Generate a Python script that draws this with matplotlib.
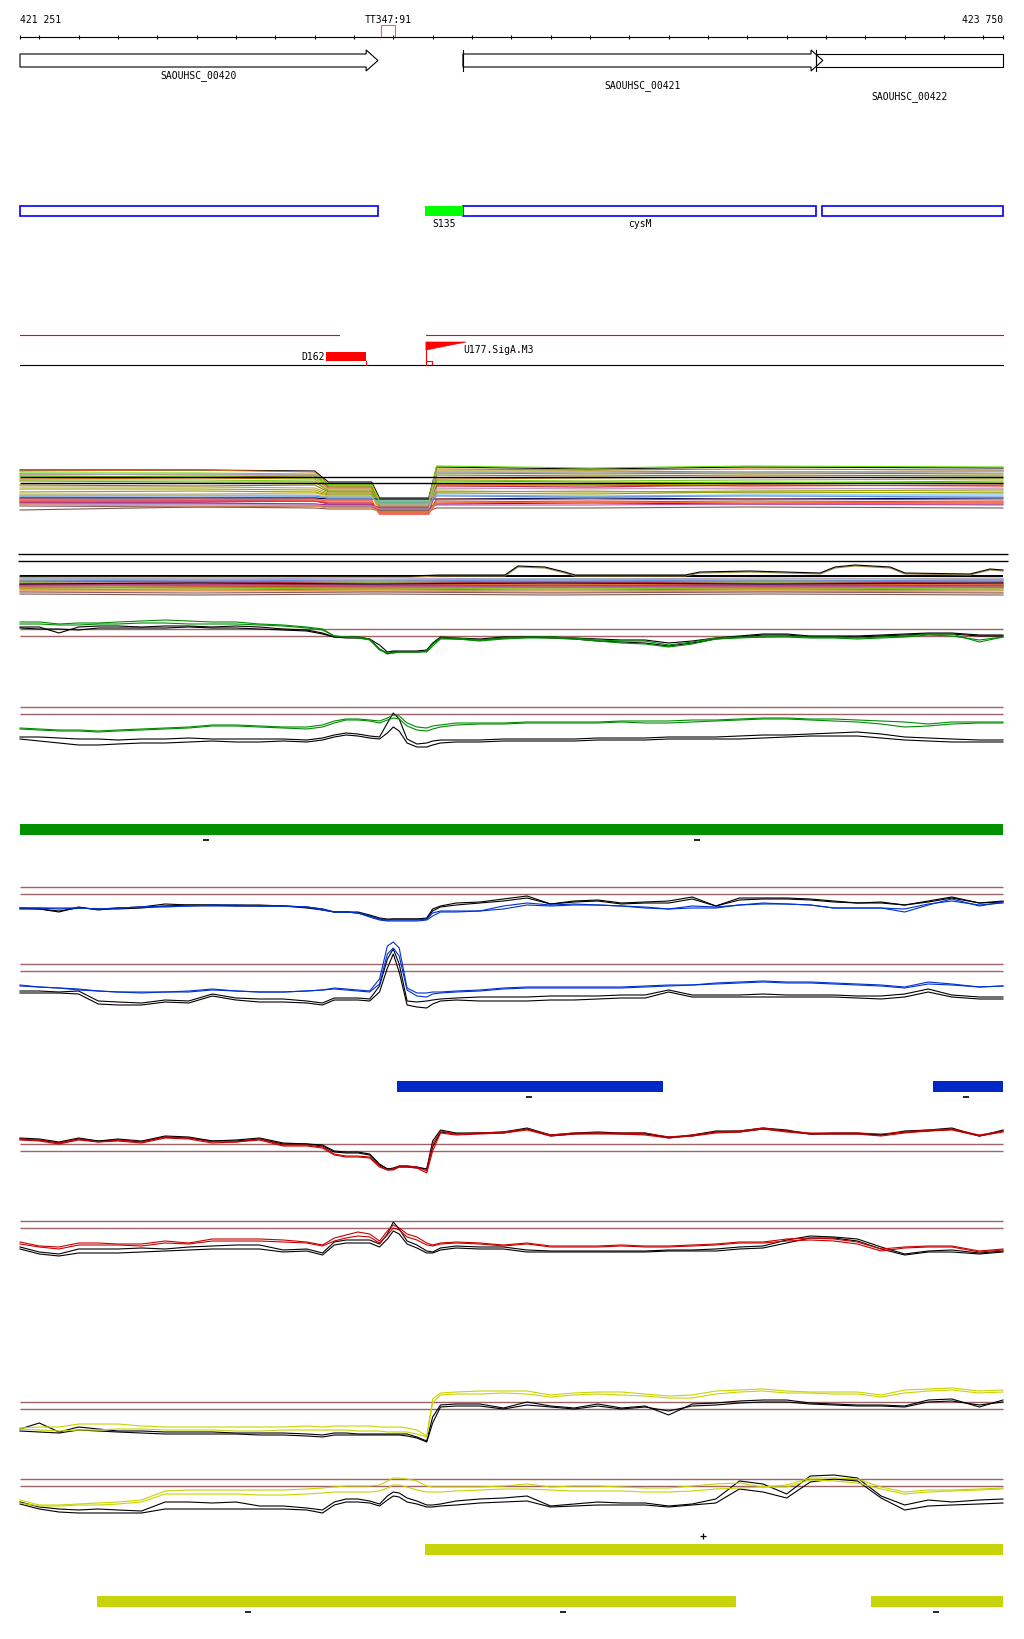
import matplotlib
matplotlib.use("Agg")
import matplotlib.pyplot as plt
from matplotlib.patches import Rectangle, Polygon

# === figure geometry: 1024 x 1640 px, genome window 421 251 - 423 750 ===
W, H = 1024, 1640
VIEW_START, VIEW_END = 421251, 423750
BP_PER_PX = (VIEW_END - VIEW_START) / 983
X0 = VIEW_START - 20 * BP_PER_PX
X1 = X0 + W * BP_PER_PX

# === annotation data ===
GENES = ["SAOUHSC_00420", "SAOUHSC_00421", "SAOUHSC_00422"]
GENE_START = [421251, 422377, 423275]
GENE_END = [422161, 423292, 423750]
GENE_ARROW = [True, True, False]
TERM_NAME = "TT347:91"
TERM_START, TERM_END = 422169, 422204

SEG_START = [421251, 422377, 423290]
SEG_END = [422161, 423275, 423750]
SEG_LABEL = ["", "cysM", ""]
SRNA_NAME, SRNA_START, SRNA_END = "S135", 422281, 422377

RED_START = [421251, 422283]
RED_END = [422062, 423750]
DOWN_NAME, DOWN_START, DOWN_END = "D162", 422029, 422131
UP_NAME, UP_POS, UP_TAIL = "U177.SigA.M3", 422283, 422385

GREEN_BAR = [(421251, 423750)]
BLUE_BARS = [(422209, 422886), (423572, 423750)]
YELLOW_BARS_PLUS = [(422281, 423750)]
YELLOW_BARS_MINUS = [(421447, 423071), (423414, 423750)]
GREEN_MINUS = [421724, 422972]
BLUE_MINUS = [422545, 423656]
YELLOW_PLUS = [422988]
YELLOW_MINUS = [421831, 422631, 423580]

# === signal tracks: shared sample positions (bp) ===
POS = [421251, 421300, 421350, 421400, 421450, 421500, 421560, 421620, 421680, 421740,
       421800, 421860, 421920, 421980, 422020, 422050, 422080, 422110, 422140, 422165,
       422185, 422200, 422215, 422235, 422260, 422285, 422300, 422320, 422360, 422420,
       422480, 422540, 422600, 422660, 422720, 422780, 422840, 422900, 422960, 423020,
       423080, 423140, 423200, 423260, 423320, 423380, 423440, 423500, 423560, 423620,
       423690, 423750]

GA_COL = [
    [5.7,5.7,5.5,5.6,5.6,5.7,5.8,5.9,5.8,5.7,5.7,5.5,5.4,5.2,5.0,4.3,4.2,4.2,4.0,3.0,2.6,2.6,2.7,2.7,2.7,2.8,
     3.5,4.1,4.1,3.9,4.1,4.2,4.2,4.1,3.9,3.8,3.8,3.4,3.7,4.1,4.2,4.2,4.3,4.2,4.2,4.1,4.2,4.3,4.5,4.5,3.7,4.2],
    [5.5,5.5,5.4,5.4,5.5,5.5,5.6,5.6,5.5,5.5,5.5,5.4,5.3,5.1,4.9,4.3,4.2,4.1,3.9,2.9,2.6,2.6,2.7,2.7,2.7,2.7,
     3.3,4.0,4.0,3.8,4.0,4.1,4.1,4.0,3.8,3.6,3.5,3.2,3.5,4.0,4.1,4.2,4.2,4.1,4.1,4.0,4.1,4.2,4.4,4.3,3.9,4.2],
]
GA_BLK = [
    [5.2,5.2,4.6,5.2,5.3,5.3,5.2,5.3,5.3,5.2,5.3,5.2,5.0,4.9,4.6,4.2,4.2,4.2,4.0,3.4,2.7,2.8,2.8,2.8,2.8,2.9,
     3.6,4.2,4.1,4.0,4.2,4.2,4.2,4.1,4.0,3.9,3.9,3.6,3.8,4.1,4.3,4.5,4.5,4.3,4.3,4.3,4.4,4.5,4.6,4.6,4.4,4.4],
    [5.1,5.0,5.0,4.9,5.1,5.1,5.1,5.1,5.2,5.1,5.1,5.0,4.9,4.8,4.5,4.2,4.1,4.1,4.0,3.0,2.5,2.7,2.7,2.7,2.7,2.8,
     3.5,4.1,4.0,3.9,4.1,4.2,4.1,4.0,3.8,3.7,3.6,3.3,3.6,4.0,4.2,4.4,4.4,4.2,4.2,4.2,4.3,4.4,4.5,4.5,4.3,4.3],
]
GB_COL = [
    [4.1,4.0,3.9,3.9,3.8,3.9,4.0,4.1,4.2,4.4,4.4,4.3,4.2,4.2,4.4,4.8,5.0,5.0,4.9,4.8,5.1,5.4,5.3,4.6,4.2,4.1,
     4.3,4.4,4.6,4.6,4.6,4.7,4.7,4.7,4.7,4.8,4.8,4.8,4.9,4.9,5.0,5.1,5.1,5.0,5.0,4.9,4.8,4.7,4.5,4.7,4.7,4.7],
    [4.0,3.9,3.8,3.8,3.7,3.8,3.9,4.0,4.1,4.3,4.3,4.2,4.1,4.0,4.2,4.6,4.9,4.9,4.8,4.6,4.9,5.1,5.0,4.3,3.9,3.8,
     4.0,4.2,4.4,4.5,4.5,4.6,4.6,4.6,4.6,4.7,4.6,4.6,4.7,4.8,4.9,5.0,5.0,4.9,4.8,4.7,4.5,4.2,4.3,4.5,4.6,4.6],
]
GB_BLK = [
    [3.2,3.2,3.1,3.0,3.0,2.9,3.0,3.0,3.1,3.0,3.0,3.0,3.0,2.9,3.1,3.4,3.6,3.5,3.3,3.2,4.6,5.6,5.0,3.0,2.5,2.6,
     2.8,2.9,2.9,2.9,3.0,3.0,3.0,3.0,3.1,3.1,3.1,3.2,3.2,3.2,3.3,3.4,3.4,3.5,3.6,3.7,3.5,3.2,3.1,3.0,2.9,2.9],
    [3.0,2.8,2.6,2.4,2.4,2.5,2.6,2.6,2.7,2.8,2.7,2.7,2.8,2.7,2.9,3.2,3.4,3.3,3.1,3.0,3.6,4.2,3.8,2.6,2.2,2.2,
     2.4,2.6,2.7,2.7,2.8,2.8,2.8,2.8,2.9,2.9,2.9,3.0,3.0,3.0,3.0,3.1,3.2,3.3,3.3,3.3,3.1,2.9,2.8,2.7,2.7,2.7],
]
BA_COL = [
    [3.1,3.1,3.0,3.1,3.0,3.1,3.2,3.3,3.3,3.4,3.4,3.3,3.3,3.2,2.9,2.7,2.7,2.6,2.3,2.0,1.9,1.9,1.9,1.9,1.9,2.0,
     2.6,2.8,2.8,2.8,3.3,3.6,3.4,3.5,3.4,3.3,3.2,3.0,3.3,3.2,3.4,3.6,3.5,3.4,3.1,3.1,3.1,2.7,3.4,4.0,3.3,3.7],
    [3.1,3.1,3.1,3.1,3.0,3.1,3.2,3.2,3.3,3.3,3.3,3.3,3.3,3.2,3.0,2.7,2.7,2.6,2.2,1.9,1.8,1.8,1.8,1.8,1.8,1.9,
     2.3,2.7,2.7,2.8,3.0,3.4,3.3,3.4,3.4,3.3,3.1,3.0,3.1,3.1,3.4,3.5,3.5,3.4,3.1,3.1,3.1,3.0,3.5,3.8,3.4,3.6],
]
BA_BLK = [
    [3.1,3.0,2.7,3.2,2.9,3.1,3.2,3.5,3.4,3.4,3.4,3.4,3.3,3.2,3.0,2.7,2.7,2.7,2.4,2.1,2.0,2.0,2.0,2.0,2.0,2.1,
     3.0,3.3,3.6,3.7,4.0,4.3,3.5,3.8,3.9,3.6,3.7,3.8,4.2,3.3,4.1,4.1,4.1,4.0,3.8,3.6,3.7,3.4,3.8,4.2,3.6,3.8],
    [3.0,3.0,2.8,3.1,3.0,3.0,3.1,3.3,3.4,3.4,3.3,3.3,3.3,3.1,2.9,2.7,2.7,2.6,2.3,2.0,1.9,2.0,2.0,2.0,2.0,2.0,
     2.8,3.2,3.4,3.6,3.8,4.1,3.5,3.7,3.8,3.5,3.6,3.6,4.0,3.3,3.9,4.0,4.0,3.9,3.7,3.6,3.6,3.4,3.7,4.1,3.6,3.7],
]
BB_COL = [
    [2.8,2.7,2.6,2.4,2.3,2.2,2.2,2.2,2.3,2.5,2.3,2.2,2.2,2.3,2.4,2.6,2.5,2.4,2.3,3.5,6.8,7.2,6.6,2.6,2.1,2.1,
     2.2,2.2,2.3,2.4,2.6,2.7,2.7,2.7,2.7,2.7,2.8,2.9,2.9,3.1,3.2,3.3,3.2,3.2,3.1,3.0,2.9,2.7,3.2,3.0,2.7,2.8],
    [2.9,2.7,2.6,2.5,2.3,2.2,2.1,2.2,2.2,2.4,2.3,2.2,2.2,2.3,2.4,2.5,2.4,2.3,2.2,3.0,6.0,6.6,5.8,2.4,1.8,1.7,
     2.0,2.1,2.2,2.3,2.5,2.6,2.6,2.6,2.6,2.6,2.7,2.8,2.9,3.0,3.1,3.2,3.1,3.1,3.0,2.9,2.8,2.6,3.0,2.9,2.7,2.8],
]
BB_BLK = [
    [2.3,2.3,2.2,2.3,1.3,1.2,1.1,1.4,1.3,2.0,1.6,1.5,1.5,1.3,1.1,1.6,1.6,1.6,1.5,2.8,5.5,6.5,5.0,1.3,1.2,1.3,
     1.4,1.5,1.6,1.7,1.7,1.7,1.8,1.8,1.8,1.9,1.9,2.4,1.9,1.9,1.9,2.0,1.9,1.9,1.9,1.8,1.8,2.0,2.5,1.9,1.7,1.7],
    [2.1,2.1,2.1,2.0,1.0,0.9,0.9,1.2,1.1,1.8,1.4,1.2,1.2,1.1,0.9,1.4,1.4,1.4,1.3,2.2,4.6,6.0,4.2,0.9,0.7,0.6,
     1.0,1.3,1.4,1.3,1.3,1.3,1.4,1.4,1.5,1.6,1.6,2.2,1.7,1.7,1.7,1.7,1.7,1.7,1.7,1.6,1.5,1.7,2.2,1.7,1.5,1.5],
]
RA_COL = [
    [5.0,4.9,4.6,5.0,4.7,4.9,4.7,5.2,5.1,4.7,4.7,5.0,4.4,4.4,4.2,3.5,3.3,3.3,3.2,2.3,1.9,2.0,2.3,2.3,2.2,1.8,
     4.5,5.8,5.5,5.6,5.7,6.0,5.4,5.6,5.6,5.6,5.6,5.2,5.4,5.7,5.8,6.1,5.8,5.6,5.6,5.6,5.5,5.7,5.9,6.0,5.4,5.8],
    [4.9,4.8,4.5,4.9,4.7,4.8,4.6,5.1,5.0,4.6,4.7,4.9,4.3,4.3,4.1,3.4,3.2,3.2,3.1,2.2,1.9,1.9,2.2,2.2,2.1,1.6,
     3.8,5.6,5.4,5.5,5.6,5.9,5.3,5.5,5.5,5.5,5.4,5.1,5.3,5.6,5.7,6.0,5.7,5.5,5.5,5.5,5.3,5.6,5.8,5.9,5.3,5.7],
]
RA_BLK = [
    [5.1,5.0,4.7,5.1,4.8,5.0,4.8,5.3,5.2,4.8,4.9,5.1,4.6,4.5,4.4,3.8,3.7,3.7,3.5,2.5,2.0,2.1,2.3,2.3,2.2,2.0,
     4.8,5.9,5.6,5.6,5.7,6.1,5.4,5.6,5.7,5.6,5.6,5.1,5.4,5.8,5.8,6.1,5.9,5.5,5.6,5.6,5.4,5.8,5.9,6.1,5.3,5.9],
    [5.0,4.9,4.6,5.0,4.8,4.9,4.7,5.2,5.1,4.8,4.8,5.0,4.5,4.5,4.3,3.7,3.6,3.6,3.4,2.4,2.0,2.0,2.2,2.2,2.1,2.0,
     4.2,5.7,5.5,5.6,5.6,6.0,5.3,5.5,5.6,5.5,5.5,5.2,5.3,5.7,5.7,6.0,5.8,5.5,5.5,5.5,5.4,5.7,5.8,6.0,5.3,5.8],
]
RB_COL = [
    [3.7,3.3,3.2,3.6,3.6,3.5,3.5,3.8,3.6,4.0,4.0,4.0,3.9,3.7,3.4,4.1,4.4,4.7,4.5,3.8,4.8,5.4,5.1,4.5,4.2,3.6,
     3.4,3.6,3.7,3.6,3.4,3.6,3.3,3.3,3.3,3.4,3.3,3.3,3.4,3.5,3.7,3.7,4.0,4.1,4.0,3.7,3.0,3.2,3.3,3.3,2.8,3.0],
    [3.5,3.2,3.0,3.4,3.4,3.4,3.3,3.6,3.5,3.8,3.8,3.8,3.7,3.6,3.3,3.8,4.1,4.3,4.2,3.6,4.4,5.1,4.9,4.2,3.9,3.4,
     3.3,3.5,3.6,3.5,3.3,3.5,3.2,3.2,3.2,3.3,3.2,3.2,3.3,3.4,3.6,3.6,3.8,3.9,3.8,3.5,2.8,3.1,3.2,3.2,2.7,2.9],
]
RB_BLK = [
    [3.2,2.7,2.5,3.0,3.0,3.0,3.1,3.0,3.2,3.3,3.4,3.4,2.9,3.0,2.6,3.7,3.9,3.9,3.9,3.5,4.5,5.7,5.0,3.8,3.4,2.8,
     2.7,3.1,3.3,3.2,3.2,2.9,2.8,2.8,2.8,2.8,2.8,2.9,2.9,3.0,3.2,3.3,3.9,4.3,4.2,4.0,3.2,2.5,2.8,2.9,2.6,2.8],
    [3.0,2.5,2.3,2.6,2.6,2.6,2.7,2.8,2.9,3.0,3.0,3.0,2.7,2.8,2.4,3.4,3.6,3.6,3.6,3.2,4.0,4.8,4.5,3.5,3.1,2.6,
     2.6,2.9,3.1,3.0,3.0,2.7,2.7,2.7,2.7,2.7,2.7,2.8,2.8,2.8,3.0,3.1,3.6,4.1,4.1,3.8,3.0,2.4,2.7,2.7,2.5,2.7],
]
YA_COL = [
    [2.1,2.2,2.2,2.5,2.5,2.5,2.3,2.2,2.2,2.2,2.2,2.2,2.2,2.3,2.2,2.3,2.3,2.3,2.3,2.2,2.2,2.2,2.2,2.1,1.9,1.3,
     5.0,5.6,5.7,5.8,5.8,5.8,5.4,5.6,5.7,5.7,5.5,5.3,5.4,5.8,5.9,6.0,5.8,5.7,5.7,5.7,5.4,5.9,6.0,6.1,5.8,5.9],
    [2.0,1.9,1.8,1.9,1.9,2.0,2.0,1.9,1.9,1.9,1.8,1.8,1.9,1.9,1.9,1.9,1.9,1.8,1.8,1.8,1.7,1.7,1.7,1.7,1.5,1.2,
     4.6,5.4,5.5,5.5,5.6,5.5,5.2,5.4,5.5,5.4,5.3,5.1,5.1,5.5,5.7,5.8,5.6,5.6,5.5,5.5,5.2,5.6,5.8,5.9,5.6,5.7],
]
YA_BLK = [
    [2.0,2.6,1.7,2.2,2.0,1.8,1.8,1.7,1.7,1.7,1.6,1.6,1.6,1.5,1.4,1.6,1.6,1.5,1.5,1.5,1.5,1.5,1.5,1.5,1.2,0.8,
     3.2,4.4,4.5,4.5,4.1,4.7,4.3,4.1,4.5,4.1,4.3,3.4,4.5,4.6,4.8,4.9,4.9,4.6,4.5,4.4,4.4,4.3,4.9,5.0,4.2,4.9],
    [1.8,1.7,1.6,1.9,1.8,1.7,1.6,1.5,1.5,1.5,1.5,1.4,1.4,1.3,1.2,1.4,1.4,1.4,1.4,1.4,1.4,1.4,1.4,1.3,1.1,0.7,
     2.6,4.2,4.3,4.3,4.0,4.4,4.2,4.0,4.3,4.0,4.2,3.8,4.3,4.4,4.6,4.7,4.7,4.5,4.4,4.3,4.3,4.2,4.7,4.8,4.4,4.7],
]
YB_COL = [
    [3.4,2.9,2.9,3.0,3.1,3.2,3.4,4.3,4.4,4.4,4.4,4.4,4.4,4.5,4.6,4.7,4.8,4.8,4.8,4.9,5.3,5.6,5.6,5.5,5.3,4.8,
     4.7,4.7,4.7,4.7,4.8,5.0,4.7,4.8,4.8,4.7,4.6,4.6,4.8,5.0,5.1,4.7,4.9,5.6,5.6,5.5,4.7,4.2,4.4,4.4,4.5,4.6],
    [3.1,2.8,2.8,2.9,2.9,3.0,3.2,4.0,4.0,4.0,4.0,3.9,3.9,4.0,4.1,4.2,4.2,4.2,4.2,4.3,4.6,4.9,4.9,4.7,4.4,4.2,
     4.2,4.2,4.3,4.4,4.5,4.5,4.4,4.3,4.3,4.3,4.2,4.2,4.3,4.5,4.6,4.7,4.7,5.4,5.3,5.1,4.5,4.0,4.2,4.3,4.4,4.5],
]
YB_BLK = [
    [3.2,2.7,2.5,2.4,2.5,2.4,2.3,3.2,3.2,3.1,3.2,2.8,2.8,2.6,2.4,3.2,3.5,3.5,3.3,3.0,3.8,4.2,4.1,3.6,3.3,2.9,
     2.9,3.0,3.3,3.5,3.6,3.8,2.8,3.0,3.2,3.1,3.1,2.8,3.0,3.5,5.3,5.0,4.0,5.8,5.9,5.6,3.8,2.9,3.4,3.2,3.4,3.5],
    [3.0,2.5,2.2,2.1,2.1,2.1,2.1,2.5,2.5,2.5,2.5,2.5,2.5,2.4,2.1,2.9,3.2,3.2,3.1,2.8,3.4,3.8,3.7,3.2,3.0,2.7,
     2.7,2.8,2.9,3.1,3.2,3.3,2.7,2.8,2.9,2.9,2.9,2.7,2.9,3.1,4.5,4.2,3.6,5.2,5.5,5.3,3.6,2.4,2.8,2.9,3.0,3.1],
]
GA_THR, GB_THR = [5.0, 4.3], [6.2, 5.5]
BA_THR, BB_THR = [5.2, 4.5], [5.0, 4.3]
RA_THR, RB_THR = [4.5, 3.8], [5.8, 5.1]
YA_THR, YB_THR = [4.7, 4.0], [5.5, 4.8]

# === multi-sample track 1: level before, in shoulder, in dip, after ===
M1_POS = [421251, 421700, 422000, 422035, 422145, 422165, 422290, 422310, 422700, 423100, 423750]
M1_COLORS = ["black", "#d2691e", "#66dd00", "#999900", "#8b7d00", "#b0a0c8", "#e07020", "#77cc22",
             "#9a9a10", "#808000", "#c0a060", "#a0a000", "#8fa000", "#d8c000", "#66bbee", "#000050",
             "#e04020", "#ff8080", "#cc2244", "#e03030", "#800080", "#c050a0", "#b4a0d4", "#8b5a5a",
             "#7a5a50", "#f09040", "#ff6347", "#66ee00", "#6090e0", "#aaaaaa"]
M1_LEFT = [[4.9,4.9,4.8],[4.8,4.9,4.7],[4.6,4.6,4.5],[4.5,4.4,4.4],[4.3,4.2,4.3],[4.4,4.5,4.4],
           [4.0,4.1,4.0],[3.9,3.9,3.8],[3.8,3.7,3.7],[3.4,3.3,3.4],[3.2,3.2,3.1],[3.0,3.0,2.9],
           [2.7,2.8,2.7],[2.5,2.5,2.6],[2.2,2.1,2.2],[2.1,2.1,2.1],[2.0,1.9,2.0],[1.9,1.9,1.8],
           [1.8,1.8,1.8],[1.7,1.7,1.8],[1.6,1.6,1.5],[1.5,1.5,1.5],[1.5,1.4,1.4],[1.3,1.2,1.3],
           [0.9,1.2,1.1],[1.4,1.3,1.3],[1.9,2.0,1.9],[4.2,4.2,4.1],[2.3,2.3,2.3],[2.4,2.4,2.4]]
M1_MID = [3.7,3.5,3.4,3.3,3.2,3.0,3.1,2.9,2.8,2.7,2.6,2.5,2.4,2.3,2.2,2.0,1.8,1.7,1.6,1.5,
          1.4,1.3,1.3,1.2,1.0,1.1,1.9,3.5,2.1,2.2]
M1_DIP = [2.1,1.9,1.8,2.0,1.7,1.6,1.5,1.4,1.3,1.2,1.1,1.0,0.9,1.0,1.9,2.0,0.6,0.8,0.7,0.5,
          1.1,1.2,1.0,0.9,0.8,0.7,0.5,1.7,1.6,1.5]
M1_RIGHT = [[5.2,5.0,5.2,5.1],[5.0,4.9,5.0,4.9],[5.3,5.1,5.3,5.2],[4.8,4.8,4.7,4.8],[4.6,4.5,4.6,4.5],
            [4.7,4.6,4.7,4.8],[4.0,4.1,4.2,4.1],[3.9,3.8,3.9,4.0],[3.8,3.7,3.6,3.8],[4.4,4.3,4.4,4.3],
            [2.7,2.8,2.6,2.7],[2.8,2.7,2.8,2.9],[2.6,2.5,2.7,2.6],[3.5,3.4,3.5,3.6],[2.4,2.3,2.4,2.4],
            [2.0,2.1,2.0,2.1],[2.0,1.9,2.0,1.9],[3.0,3.1,3.0,3.1],[3.3,3.2,3.4,3.3],[3.4,3.4,3.3,3.4],
            [1.5,1.6,1.5,1.5],[1.4,1.4,1.5,1.4],[3.1,3.0,3.1,3.0],[1.8,1.7,1.8,1.7],[1.1,1.1,1.2,1.1],
            [1.7,1.6,1.7,1.6],[1.6,1.7,1.6,1.7],[3.6,3.5,3.7,3.6],[2.3,2.2,2.3,2.2],[4.6,4.7,4.6,4.7]]
M1_THR = [4.2, 3.6]

# === multi-sample track 2 ===
M2_POS = [421251, 421700, 422150, 422600, 423150, 423750]
M2_COLORS = ["#b0a0d0", "#66bbee", "#ff8080", "#999900", "#cc2244", "#66dd00", "#e07020", "#800080",
             "#8b7d00", "#e04020", "#77cc22", "#d2691e", "#c0a060", "#f09040", "#a0a000", "#6090e0",
             "#e03030", "#8b5a5a", "#7a5a50", "#000050", "#aaaaaa", "#c050a0"]
M2_VALUES = [[2.6,2.5,2.6,2.5,2.6,2.5],[2.5,2.4,2.4,2.5,2.4,2.4],[2.4,2.3,2.4,2.3,2.3,2.4],
             [2.3,2.2,2.3,2.2,2.3,2.2],[2.2,2.2,2.1,2.2,2.1,2.2],[2.1,2.0,2.1,2.0,2.1,2.0],
             [2.0,2.0,1.9,2.0,1.9,2.0],[1.9,1.9,1.9,1.8,1.9,1.8],[1.8,1.8,1.7,1.8,1.7,1.8],
             [1.7,1.6,1.7,1.6,1.7,1.6],[1.6,1.6,1.5,1.6,1.5,1.6],[1.5,1.4,1.5,1.4,1.5,1.4],
             [1.4,1.4,1.3,1.4,1.3,1.4],[1.3,1.3,1.3,1.2,1.3,1.2],[1.6,1.7,1.6,1.7,1.6,1.7],
             [2.3,2.4,2.3,2.4,2.3,2.4],[1.9,1.8,1.8,1.9,1.8,1.9],[1.2,1.1,1.2,1.1,1.2,1.1],
             [1.0,0.9,1.0,0.9,1.0,0.9],[2.0,2.1,2.0,2.1,2.0,2.1],[2.5,2.5,2.4,2.5,2.5,2.6],
             [1.8,1.9,1.8,1.7,1.8,1.7]]
M2_TOP_POS = [421251, 422242, 422319, 422362, 422484, 422517, 422585, 422636, 422662, 422942,
              422980, 423107, 423285, 423323, 423374, 423463, 423501, 423666, 423717, 423750]
M2_TOP_VAL = [2.8, 2.8, 2.9, 2.9, 2.9, 3.8, 3.7, 3.2, 2.9, 2.9,
              3.2, 3.3, 3.1, 3.7, 3.9, 3.7, 3.1, 3.0, 3.5, 3.4]
M2_BASE = 2.8

# === drawing ===
FONT = dict(family="DejaVu Sans Mono", fontsize=7, color="black")
THR_COLOR = "#9c6464"
LW = 0.8

fig = plt.figure(figsize=(W / 100, H / 100), dpi=100)
ax = fig.add_axes([0, 0, 1, 1])
ax.set_xlim(X0, X1)
ax.set_ylim(H, 0)
ax.axis("off")

# ruler
ax.plot([VIEW_START, VIEW_END], [38, 38], color="black", lw=LW)
ticks = [VIEW_START] + list(range(421300, VIEW_END, 100)) + [VIEW_END]
ax.vlines(ticks, 36, 40, color="black", lw=LW)
ax.text(VIEW_START, 20, "421 251", ha="left", va="center", **FONT)
ax.text(VIEW_END, 20, "423 750", ha="right", va="center", **FONT)
ax.text((TERM_START + TERM_END) / 2, 20, TERM_NAME, ha="center", va="center", **FONT)
ax.add_patch(Rectangle((TERM_START, 26), TERM_END - TERM_START, 12, fill=False,
                       ec="#ff6040", lw=LW))

# genes
label_y = [76, 86, 97]
for name, s, e, arrow, ly in zip(GENES, GENE_START, GENE_END, GENE_ARROW, label_y):
    if arrow:
        hs = e - 30
        pts = [(s, 55), (hs, 55), (hs, 51), (e, 61.5), (hs, 72), (hs, 68), (s, 68)]
    else:
        pts = [(s, 55), (e, 55), (e, 68), (s, 68)]
    ax.add_patch(Polygon(pts, closed=True, fill=False, ec="black", lw=LW))
    if s > VIEW_START:
        ax.plot([s, s], [51, 72], color="black", lw=LW)
    ax.text((s + e) / 2, ly, name, ha="center", va="center", **FONT)

# transcript segments
for s, e, lab in zip(SEG_START, SEG_END, SEG_LABEL):
    ax.add_patch(Rectangle((s, 207), e - s, 10, fill=False, ec="#0000ff", lw=1.2))
    if lab:
        ax.text((s + e) / 2, 224, lab, ha="center", va="center", **FONT)
ax.add_patch(Rectangle((SRNA_START, 207), SRNA_END - SRNA_START, 10, fc="#00ff00", ec="none"))
ax.text((SRNA_START + SRNA_END) / 2, 224, SRNA_NAME, ha="center", va="center", **FONT)

# promoters / red track
for s, e in zip(RED_START, RED_END):
    ax.plot([s, e], [336, 336], color="#ff0000", lw=LW)
ax.plot([VIEW_START, VIEW_END], [366, 366], color="black", lw=LW)
ax.add_patch(Rectangle((DOWN_START, 353), DOWN_END - DOWN_START, 9, fc="#ff0000", ec="none"))
ax.plot([DOWN_END, DOWN_END], [362, 366], color="#ff0000", lw=LW)
ax.text(DOWN_START - 4, 357, DOWN_NAME, ha="right", va="center", **FONT)
ax.plot([UP_POS, UP_POS], [343, 366], color="#ff0000", lw=LW)
ax.add_patch(Polygon([(UP_POS, 343), (UP_TAIL, 343), (UP_POS, 351)], closed=True,
                     fc="#ff0000", ec="#ff0000", lw=0.5))
ax.add_patch(Rectangle((UP_POS, 362), 15, 4, fill=False, ec="#ff0000", lw=LW))
ax.text(UP_TAIL - 8, 350, UP_NAME, ha="left", va="center", **FONT)

# separators above track 2
ax.hlines([555, 562], X0 + 18 * BP_PER_PX, X0 + 1008 * BP_PER_PX, color="black", lw=1.0)

# feature bars and strand marks
def bars(spans, y, color):
    for s, e in spans:
        ax.add_patch(Rectangle((s, y), e - s, 11, fc=color, ec="none"))

bars(GREEN_BAR, 825, "#009000")
bars(BLUE_BARS, 1082, "#0028c8")
bars(YELLOW_BARS_PLUS, 1545, "#c8d40a")
bars(YELLOW_BARS_MINUS, 1597, "#c8d40a")
for xs, y in [(GREEN_MINUS, 841), (BLUE_MINUS, 1098), (YELLOW_MINUS, 1613)]:
    ax.plot(xs, [y] * len(xs), linestyle="none", marker="_", ms=4, mew=1.2, color="black")
ax.plot(YELLOW_PLUS, [1537] * len(YELLOW_PLUS), linestyle="none", marker="+", ms=5,
        mew=0.9, color="black")


def track(top, height, lim):
    t = fig.add_axes([0, 1 - (top + height) / H, 1, height / H])
    t.set_xlim(X0, X1)
    t.set_ylim(0, lim)
    t.axis("off")
    t.patch.set_alpha(0)
    return t


# multi-sample track 1
t1 = track(460, 60, 6)
for c, l, m, d, r in zip(M1_COLORS, M1_LEFT, M1_MID, M1_DIP, M1_RIGHT):
    t1.plot(M1_POS, l + [m, m, d, d] + r, color=c, lw=LW)
t1.hlines(M1_THR, VIEW_START, VIEW_END, color="black", lw=1.0)

# multi-sample track 2
t2 = track(565, 40, 4)
for c, v in zip(M2_COLORS, M2_VALUES):
    t2.plot(M2_POS, v, color=c, lw=LW)
t2.hlines([M2_BASE], VIEW_START, VIEW_END, color="black", lw=1.4)
t2.plot(M2_TOP_POS, [v - 0.1 for v in M2_TOP_VAL], color="#a08840", lw=LW)
t2.plot(M2_TOP_POS, M2_TOP_VAL, color="black", lw=LW)

# condition tracks
SIGNALS = [
    (600, "#008c00", GA_COL, GA_BLK, GA_THR),
    (690, "#008c00", GB_COL, GB_BLK, GB_THR),
    (860, "#0030d0", BA_COL, BA_BLK, BA_THR),
    (935, "#0030d0", BB_COL, BB_BLK, BB_THR),
    (1110, "#c80000", RA_COL, RA_BLK, RA_THR),
    (1200, "#c80000", RB_COL, RB_BLK, RB_THR),
    (1370, "#c8d400", YA_COL, YA_BLK, YA_THR),
    (1455, "#c8d400", YB_COL, YB_BLK, YB_THR),
]
for top, color, cols, blks, thr in SIGNALS:
    t = track(top, 80, 8)
    t.hlines(thr, VIEW_START, VIEW_END, color=THR_COLOR, lw=1.0)
    for v in blks:
        t.plot(POS, v, color="black", lw=LW)
    for v in cols:
        t.plot(POS, v, color=color, lw=LW)

fig.savefig("out.png", dpi=100)
